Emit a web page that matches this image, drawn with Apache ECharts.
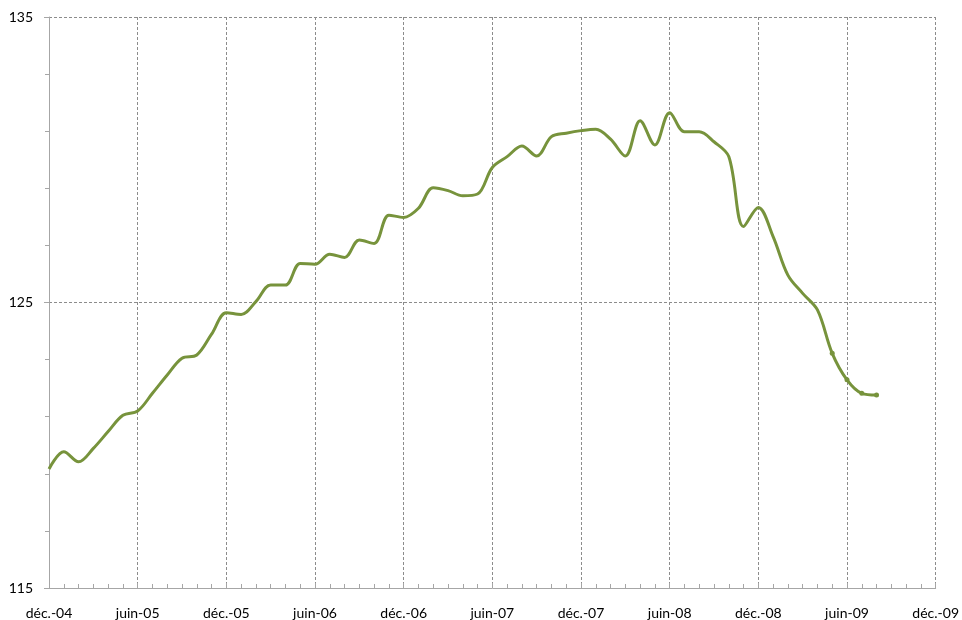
<!DOCTYPE html>
<html>
<head>
<meta charset="utf-8">
<script src="https://cdn.jsdelivr.net/npm/echarts@6/dist/echarts.min.js"></script>
<style>
  html, body { margin: 0; padding: 0; background: #ffffff; }
  #main { width: 962px; height: 620px; }
</style>
</head>
<body>
<div id="main"></div>
<script>
// months counted from déc.-04 (0) to déc.-09 (60)
const tickLabels = ['déc.-04', 'juin-05', 'déc.-05', 'juin-06', 'déc.-06', 'juin-07',
                    'déc.-07', 'juin-08', 'déc.-08', 'juin-09', 'déc.-09'];

// monthly index values, déc.-04 .. août-09
const indexValues = [
    119.17, 119.77, 119.42, 119.89, 120.48, 121.05, 121.20, 121.82, 122.46, 123.05,
    123.16, 123.89, 124.64, 124.58, 125.03, 125.61, 125.61, 126.37, 126.34, 126.69,
    126.58, 127.19, 127.07, 128.06, 127.98, 128.30, 129.02, 128.92, 128.74, 128.80,
    129.73, 130.11, 130.48, 130.13, 130.81, 130.93, 131.02, 131.07, 130.72, 130.13,
    131.37, 130.52, 131.65, 130.98, 130.98, 130.63, 130.11, 127.66, 128.33, 127.31,
    125.96, 125.32, 124.74, 123.22, 122.29, 121.82, 121.76
];

// the last points are drawn with a small dot
const firstDotted = 53;

const chart = echarts.init(document.getElementById('main'));

const seriesData = indexValues.map((v, i) => {
    if (i >= firstDotted) {
        return { value: [i, v], symbol: 'circle', symbolSize: 5 };
    }
    return { value: [i, v], symbol: 'none' };
});

const option = {
    backgroundColor: '#ffffff',
    animation: false,
    grid: { left: 49, right: 25, top: 17, bottom: 32, containLabel: false },
    xAxis: {
        type: 'value',
        min: 0,
        max: 60,
        interval: 6,
        axisLine: { show: true, lineStyle: { color: '#a6a6a6', width: 1 } },
        axisTick: { show: true, inside: true, length: 5, lineStyle: { color: '#a6a6a6' } },
        minorTick: { show: true, splitNumber: 6, length: 4, lineStyle: { color: '#a6a6a6' } },
        axisLabel: {
            color: '#000000',
            fontFamily: 'Lato, "Open Sans", sans-serif',
            fontSize: 14,
            margin: 18,
            formatter: v => tickLabels[v / 6] || ''
        },
        splitLine: { show: true, lineStyle: { color: '#8c8c8c', type: [3, 2], width: 1 } }
    },
    yAxis: {
        type: 'value',
        min: 115,
        max: 135,
        interval: 10,
        axisLine: { show: true, lineStyle: { color: '#a6a6a6', width: 1 } },
        axisTick: { show: true, length: 5, lineStyle: { color: '#a6a6a6' } },
        minorTick: { show: true, splitNumber: 5, length: 4, lineStyle: { color: '#a6a6a6' } },
        axisLabel: {
            color: '#000000',
            fontFamily: 'Lato, "Open Sans", sans-serif',
            fontSize: 14,
            margin: 16
        },
        splitLine: { show: true, lineStyle: { color: '#8c8c8c', type: [3, 2], width: 1 } }
    },
    series: [
        {
            type: 'line',
            smooth: 0.35,
            data: seriesData,
            lineStyle: { color: '#77933c', width: 3 },
            itemStyle: { color: '#77933c' }
        }
    ]
};

chart.setOption(option);
</script>
</body>
</html>
